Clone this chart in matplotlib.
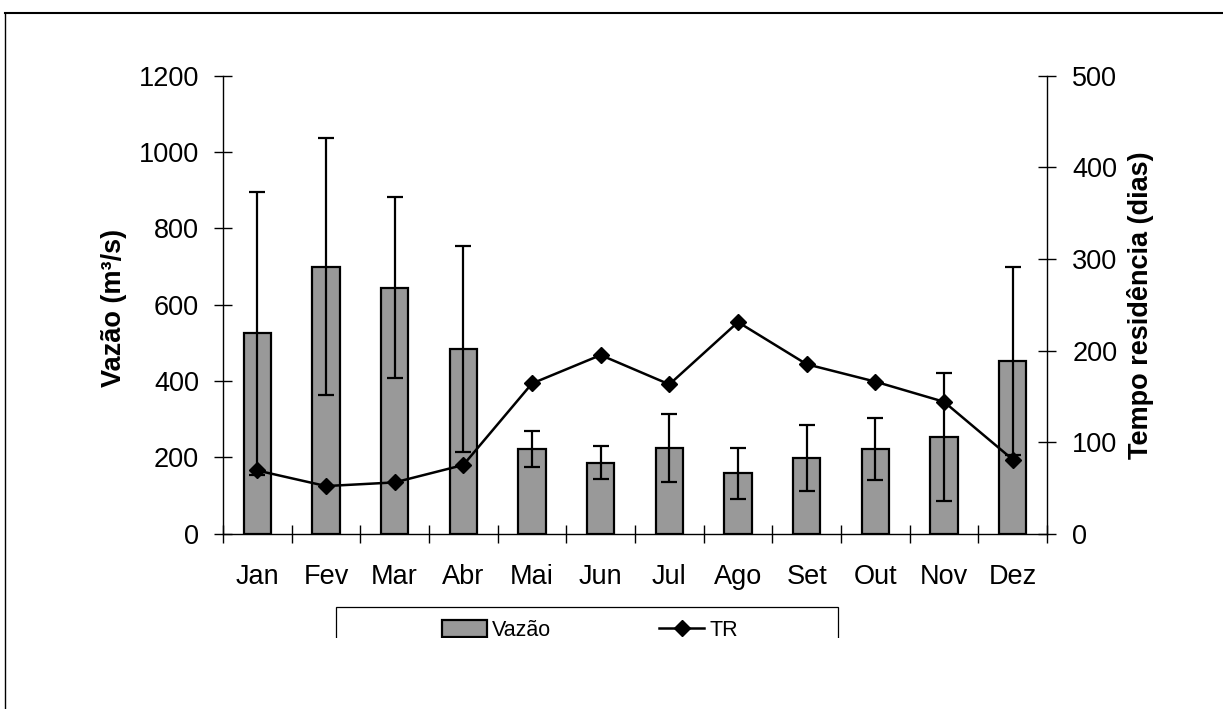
import numpy as np
import matplotlib
matplotlib.use("Agg")
import matplotlib.pyplot as plt
from matplotlib.patches import Rectangle
from matplotlib.lines import Line2D

plt.rcParams["font.family"] = ["Liberation Sans", "DejaVu Sans"]

# Monthly data
meses = ["Jan", "Fev", "Mar", "Abr", "Mai", "Jun", "Jul", "Ago", "Set", "Out", "Nov", "Dez"]
vazao = [525, 700, 645, 484, 222, 186, 225, 158, 198, 222, 253, 452]        # m3/s
vazao_dp = [371, 337, 236, 269, 48, 43, 89, 67, 87, 82, 168, 246]           # desvio padrão
tr = [69, 52, 56, 75, 164, 195, 163, 231, 185, 166, 144, 81]                # dias

W, H = 1223, 709
fig = plt.figure(figsize=(W / 100, H / 100), dpi=100)

# axes box in pixel coordinates
x0, x1, y0, y1 = 223, 1047, 75.7, 533.7
ax = fig.add_axes([x0 / W, 1 - y1 / H, (x1 - x0) / W, (y1 - y0) / H])

x = np.arange(len(meses))
FS = 19.5
FS_LEG = 15.5

bars = ax.bar(x, vazao, width=0.4, color="#999999", edgecolor="black", linewidth=1.6,
              yerr=vazao_dp, zorder=2,
              error_kw=dict(ecolor="black", elinewidth=1.6, capsize=6, capthick=1.6, zorder=3))
ax.set_xlim(-0.5, len(meses) - 0.5)
ax.set_ylim(0, 1200)
ax.set_yticks(np.arange(0, 1201, 200))

# category boundaries as major ticks, month names centred as minor labels
ax.set_xticks(np.arange(-0.5, len(meses), 1))
ax.set_xticklabels([])
ax.set_xticks(x, minor=True)
ax.set_xticklabels(meses, minor=True, fontsize=FS)
ax.tick_params(axis="x", which="major", direction="inout", length=12.5, width=1.0)
ax.tick_params(axis="x", which="minor", length=0, pad=22)
ax.tick_params(axis="y", direction="inout", length=13.5, width=1.0, labelsize=FS, pad=10.5)

for s in ["top", "right"]:
    ax.spines[s].set_visible(False)
for s in ["left", "bottom"]:
    ax.spines[s].set_linewidth(1.0)
ax.set_ylabel("Vazão (m³/s)", fontsize=FS, fontweight="bold")
ax.yaxis.set_label_coords(-0.117, 0.493)

ax2 = ax.twinx()
line, = ax2.plot(x, tr, color="black", linewidth=1.8, marker="D", markersize=8, zorder=4)
ax2.set_ylim(0, 500)
ax2.set_yticks(np.arange(0, 501, 100))
ax2.tick_params(axis="y", direction="inout", length=12.5, width=1.0, labelsize=FS, pad=12)
for s in ["top", "left", "bottom"]:
    ax2.spines[s].set_visible(False)
ax2.spines["right"].set_linewidth(1.0)
ax2.set_ylabel("Tempo residência (dias)", fontsize=FS, fontweight="bold")
ax2.yaxis.set_label_coords(1.097, 0.5)

# legend box below the chart
lx0, lx1, ly0 = 336, 838, 607
fig.patches.append(Rectangle((lx0 / W, 1 - 680 / H), (lx1 - lx0) / W, (680 - ly0) / H,
                             transform=fig.transFigure, facecolor="white",
                             edgecolor="black", linewidth=0.9, zorder=5))
leg = fig.legend([bars, line], ["Vazão", "TR"], ncol=2, frameon=False,
                 loc="upper center", bbox_to_anchor=(590 / W, 1 - 609 / H),
                 fontsize=FS_LEG, handlelength=2.1, handleheight=0.8, handletextpad=0.24,
                 columnspacing=5.0, borderpad=0.0)
leg.set_zorder(6)

# white band hiding the lower part of the legend
fig.patches.append(Rectangle((0, 0), 1, 1 - 638 / H, transform=fig.transFigure,
                             facecolor="white", edgecolor="none", zorder=7))

# outer frame (top and left edges)
fig.lines.append(Line2D([4.5 / W, 1], [1 - 13 / H, 1 - 13 / H], transform=fig.transFigure,
                        color="black", linewidth=1.5, zorder=8))
fig.lines.append(Line2D([4.5 / W, 4.5 / W], [1 - 13 / H, 0], transform=fig.transFigure,
                        color="black", linewidth=1.0, zorder=8))

fig.savefig("out.png", dpi=100, facecolor="white")
